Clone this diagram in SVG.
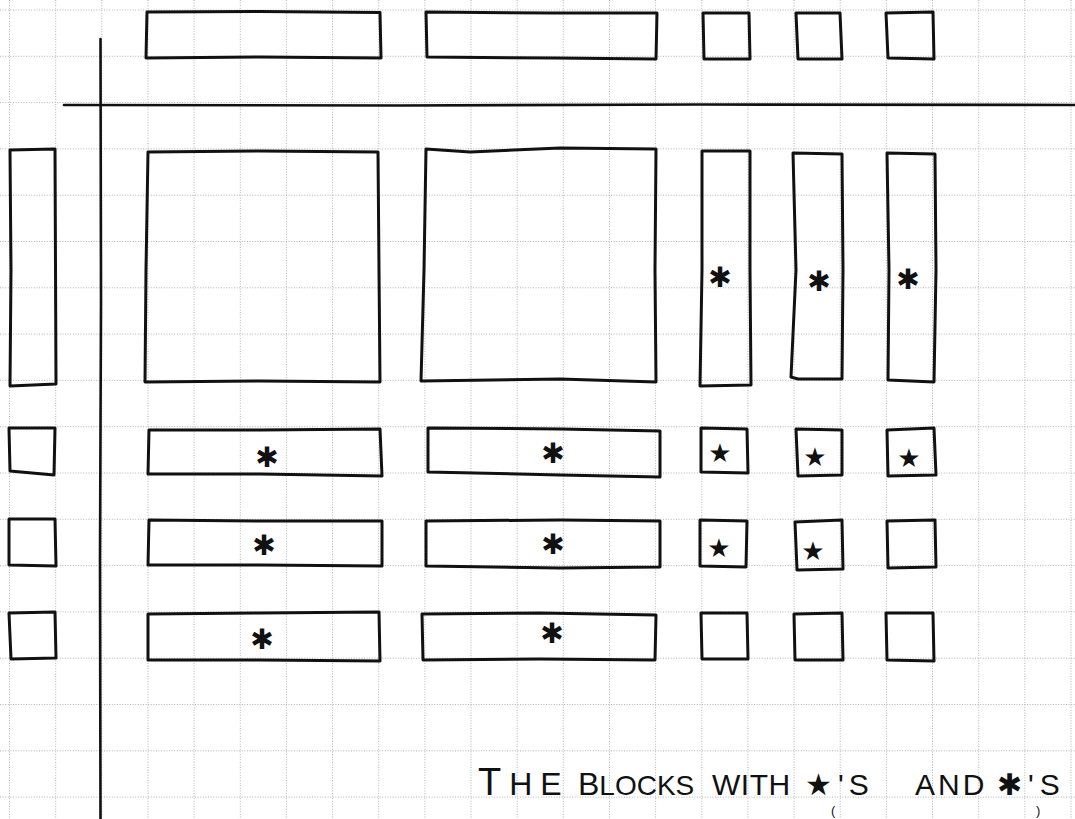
<svg xmlns="http://www.w3.org/2000/svg" width="1075" height="819" viewBox="0 0 1075 819">
<style>
.grid line{stroke:#b4b4b4;stroke-width:1;stroke-dasharray:1 1.6}
.box{fill:none;stroke:#111;stroke-width:3;stroke-linejoin:round;stroke-linecap:round}
.axis{fill:none;stroke:#111;stroke-width:2.6;stroke-linecap:round}
.ast{font-family:"DejaVu Sans",sans-serif;font-size:28px;fill:#111;text-anchor:middle}
.star{font-family:"DejaVu Sans",sans-serif;font-size:26px;fill:#111;text-anchor:middle}
.cap{font-family:"Liberation Sans",sans-serif;font-size:30px;fill:#111}
.paren{font-family:"Liberation Sans",sans-serif;font-size:13px;fill:#111}
.sym{font-family:"DejaVu Sans",sans-serif}
</style>
<rect width="1075" height="819" fill="#ffffff"/>
<g class="grid" id="grid">
<line x1="9.5" y1="0" x2="9.5" y2="819"/><line x1="55.7" y1="0" x2="55.7" y2="819"/><line x1="101.8" y1="0" x2="101.8" y2="819"/><line x1="148" y1="0" x2="148" y2="819"/><line x1="194.1" y1="0" x2="194.1" y2="819"/><line x1="240.3" y1="0" x2="240.3" y2="819"/><line x1="286.4" y1="0" x2="286.4" y2="819"/><line x1="332.6" y1="0" x2="332.6" y2="819"/><line x1="378.7" y1="0" x2="378.7" y2="819"/><line x1="424.9" y1="0" x2="424.9" y2="819"/><line x1="471" y1="0" x2="471" y2="819"/><line x1="517.2" y1="0" x2="517.2" y2="819"/><line x1="563.3" y1="0" x2="563.3" y2="819"/><line x1="609.5" y1="0" x2="609.5" y2="819"/><line x1="655.6" y1="0" x2="655.6" y2="819"/><line x1="701.8" y1="0" x2="701.8" y2="819"/><line x1="747.9" y1="0" x2="747.9" y2="819"/><line x1="794.1" y1="0" x2="794.1" y2="819"/><line x1="840.2" y1="0" x2="840.2" y2="819"/><line x1="886.4" y1="0" x2="886.4" y2="819"/><line x1="932.5" y1="0" x2="932.5" y2="819"/><line x1="978.7" y1="0" x2="978.7" y2="819"/><line x1="1024.8" y1="0" x2="1024.8" y2="819"/><line x1="1071" y1="0" x2="1071" y2="819"/>
<line x1="0" y1="10" x2="1075" y2="10"/><line x1="0" y1="56.3" x2="1075" y2="56.3"/><line x1="0" y1="102.6" x2="1075" y2="102.6"/><line x1="0" y1="148.9" x2="1075" y2="148.9"/><line x1="0" y1="195.2" x2="1075" y2="195.2"/><line x1="0" y1="241.5" x2="1075" y2="241.5"/><line x1="0" y1="287.8" x2="1075" y2="287.8"/><line x1="0" y1="334.1" x2="1075" y2="334.1"/><line x1="0" y1="380.4" x2="1075" y2="380.4"/><line x1="0" y1="426.7" x2="1075" y2="426.7"/><line x1="0" y1="473" x2="1075" y2="473"/><line x1="0" y1="519.3" x2="1075" y2="519.3"/><line x1="0" y1="565.6" x2="1075" y2="565.6"/><line x1="0" y1="611.9" x2="1075" y2="611.9"/><line x1="0" y1="658.2" x2="1075" y2="658.2"/><line x1="0" y1="704.5" x2="1075" y2="704.5"/><line x1="0" y1="750.8" x2="1075" y2="750.8"/><line x1="0" y1="797.1" x2="1075" y2="797.1"/>
</g>
<g id="axes">
<path class="axis" d="M100.5,39 L101,300 L100,560 L100.5,819"/>
<path class="axis" d="M64,105 L400,105.5 L700,104.5 L1075,105"/>
</g>
<g id="top-row">
<g id="t1"><path class="box" d="M147,12 L260,11.5 L380,12.5 L381,58 L260,57 L146,58 Z"/></g>
<g id="t2"><path class="box" d="M426,12 L550,13 L657,13 L656,59 L555,58 L427,57 Z"/></g>
<g id="t3"><path class="box" d="M703,13 L749,13 L750,59 L704,59 Z"/></g>
<g id="t4"><path class="box" d="M796,13 L840,13 L842,59 L798,59 Z"/></g>
<g id="t5"><path class="box" d="M886,13 L933,12 L934,59 L888,58 Z"/></g>
</g>
<g id="left-column">
<g id="l1"><path class="box" d="M10,150 L55,149 L56,384 L10,386 L11,270 Z"/></g>
<g id="l2"><path class="box" d="M9,428 L55,428 L54,475 L10,471 Z"/></g>
<g id="l3"><path class="box" d="M9,519 L55,519 L56,566 L9,565 Z"/></g>
<g id="l4"><path class="box" d="M9,613 L55,612 L56,658 L11,659 Z"/></g>
</g>
<g id="big-blocks">
<g id="b1"><path class="box" d="M148,152 L260,151 L378,152 L379,270 L380,382 L260,381 L145,382 L146,270 Z"/></g>
<g id="b2"><path class="box" d="M426,149 L470,152 L560,148 L656,149 L655,270 L656,382 L560,379 L421,381 L424,270 Z"/></g>
</g>
<g id="tall-blocks">
<g id="c1"><path class="box" d="M702,151 L750,151 L750,270 L751,385 L700,386 L702,270 Z"/><text class="ast" x="720" y="287">✱</text></g>
<g id="c2"><path class="box" d="M793,153 L842,154 L843,270 L842,379 L798,379 L791,377 L796,270 Z"/><text class="ast" x="819" y="291">✱</text></g>
<g id="c3"><path class="box" d="M887,153 L935,154 L936,270 L934,382 L888,380 L889,270 Z"/><text class="ast" x="908" y="289">✱</text></g>
</g>
<g id="row-1">
<g id="r1a"><path class="box" d="M149,430 L260,430 L380,429 L382,476 L260,474 L148,474 Z"/><text class="ast" x="267" y="467">✱</text></g>
<g id="r1b"><path class="box" d="M428,428 L560,429 L660,431 L660,477 L560,475 L428,472 Z"/><text class="ast" x="553" y="463">✱</text></g>
<g id="r1c"><path class="box" d="M701,428 L747,429 L748,473 L701,472 Z"/><text class="star" x="720" y="462">★</text></g>
<g id="r1d"><path class="box" d="M796,429 L842,430 L842,475 L798,476 Z"/><text class="star" x="815" y="466">★</text></g>
<g id="r1e"><path class="box" d="M887,430 L934,428 L936,475 L888,476 Z"/><text class="star" x="909" y="467">★</text></g>
</g>
<g id="row-2">
<g id="r2a"><path class="box" d="M149,520 L260,521 L382,521 L382,566 L260,565 L148,565 Z"/><text class="ast" x="264" y="555">✱</text></g>
<g id="r2b"><path class="box" d="M426,521 L560,520 L660,521 L660,567 L560,568 L426,566 Z"/><text class="ast" x="553" y="554">✱</text></g>
<g id="r2c"><path class="box" d="M700,520 L747,521 L746,567 L700,566 Z"/><text class="star" x="719" y="557">★</text></g>
<g id="r2d"><path class="box" d="M795,522 L842,520 L843,569 L797,570 Z"/><text class="star" x="813" y="560">★</text></g>
<g id="r2e"><path class="box" d="M887,521 L935,520 L936,567 L888,568 Z"/></g>
</g>
<g id="row-3">
<g id="r3a"><path class="box" d="M148,614 L260,613 L379,612 L380,661 L260,660 L148,660 Z"/><text class="ast" x="262" y="649">✱</text></g>
<g id="r3b"><path class="box" d="M422,614 L540,613 L656,615 L655,660 L540,659 L423,660 Z"/><text class="ast" x="552" y="643">✱</text></g>
<g id="r3c"><path class="box" d="M701,613 L747,613 L748,659 L702,659 Z"/></g>
<g id="r3d"><path class="box" d="M794,614 L842,613 L843,660 L795,660 Z"/></g>
<g id="r3e"><path class="box" d="M886,613 L933,613 L934,661 L887,660 Z"/></g>
</g>
<g id="caption">
<text class="cap" y="795"><tspan x="478" font-size="38" letter-spacing="8">T</tspan><tspan font-size="32" letter-spacing="8">HE</tspan> <tspan x="578" font-size="32">B</tspan><tspan font-size="28">LOCKS</tspan> <tspan x="712" font-size="30" letter-spacing="0.5">WITH</tspan> <tspan x="805" class="sym" font-size="30">★</tspan><tspan x="838" font-size="30" letter-spacing="5">'S</tspan> <tspan x="915" font-size="30" letter-spacing="3">AND</tspan> <tspan x="997" class="sym" font-size="30">✱</tspan><tspan x="1028" font-size="30" letter-spacing="6">'S</tspan></text>
<text class="paren" x="831" y="815">(</text>
<text class="paren" x="1036" y="815">)</text>
</g>
</svg>
